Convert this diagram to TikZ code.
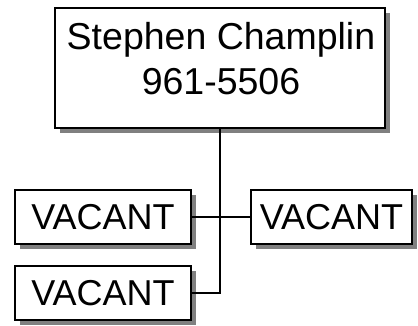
\documentclass[tikz,border=0pt]{standalone}
\usepackage{fontspec}
\setmainfont{Liberation Sans}
\usetikzlibrary{shadows}
\begin{document}
\begin{tikzpicture}[x=1pt,y=-1pt,
  box/.style={draw=black, line width=1.6pt, fill=white, inner sep=0pt,
    drop shadow={shadow xshift=5pt, shadow yshift=-5pt, fill=black!50, opacity=1}},
  lbl/.style={font=\fontsize{37.5}{45}\selectfont, inner sep=0pt, align=center},
  vlbl/.style={font=\fontsize{36}{45}\selectfont, inner sep=0pt, align=center},
  conn/.style={line width=1.6pt}]
\useasboundingbox (0,0) rectangle (418,326);
\node[box, minimum width=330pt, minimum height=120pt] (boss) at (220,68) {};
\node[lbl, anchor=base] (bossname) at (221,50) {Stephen Champlin};
\node[lbl, anchor=base] (bossphone) at (221,95) {961-5506};
\node[box, vlbl, minimum width=176pt, minimum height=54pt] (v1) at (103,217) {VACANT};
\node[box, vlbl, minimum width=161pt, minimum height=54pt] (v2) at (331.5,217) {VACANT};
\node[box, vlbl, minimum width=176pt, minimum height=54pt] (v3) at (103,293) {VACANT};
\draw[conn] (boss.south) |- (v3.east);
\draw[conn] (v1.east) -- (v2.west);
\end{tikzpicture}
\end{document}
